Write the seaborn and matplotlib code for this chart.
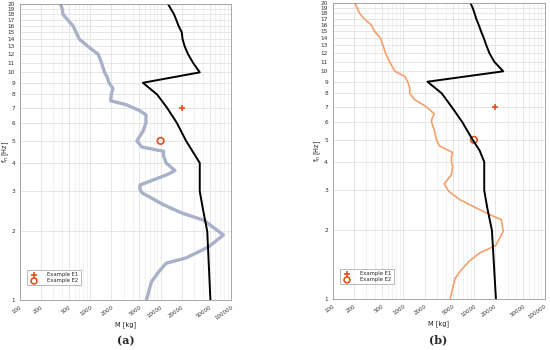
import numpy as np
import pandas as pd
import matplotlib.pyplot as plt
from matplotlib.ticker import FixedLocator, NullFormatter, LogLocator
import seaborn as sns

# Dados (frequência natural em Hz x massa em kg)
freq_limit_a = [1, 2, 2.5, 3, 4, 5, 6, 7, 8, 9, 10, 11, 12, 13, 14, 15, 16, 17, 18, 19, 20]
mass_limit_a = [51000, 46000, 40000, 36000, 36000, 23000, 17000, 12300, 8900, 5600,
                36000, 29000, 24600, 22000, 20500, 20000, 18000, 16700, 15500, 14000, 12700]

freq_curve_a = [20, 19, 18, 17, 16, 15, 14, 13, 12, 11, 10, 9.5, 9, 8.5, 8, 7.5, 7.2, 6.8,
                6.5, 6, 5.5, 5, 4.7, 4.5, 4.3, 4, 3.7, 3.54, 3.2, 3.05, 2.95, 2.62, 2.41,
                2.24, 1.93, 1.71, 1.53, 1.45, 1.33, 1.2, 1]
mass_curve_a = [380, 400, 410, 480, 570, 630, 700, 930, 1300, 1450, 1600, 1750, 1850, 2100,
                2000, 1950, 3300, 5000, 6200, 6200, 5600, 4600, 5400, 11000, 11000, 12000,
                16000, 12000, 5100, 5100, 5500, 11000, 20000, 41000, 78000, 48000, 23000,
                12000, 9400, 7400, 6300]

freq_limit_b = [1, 2, 2.5, 3, 4, 4.5, 5, 6, 7, 8, 9, 10, 11, 12, 13, 14, 15, 16, 17, 18, 19, 20]
mass_limit_b = [20500, 18000, 15500, 14000, 14000, 12000, 9600, 6800, 4800, 3500, 2200,
                26000, 19500, 16600, 15000, 13800, 12600, 11700, 10800, 10200, 9600, 8900]

freq_curve_b = [20, 18, 17, 16, 15, 14, 13, 12, 11, 10, 9.5, 9, 8.5, 8, 7.5, 7, 6.5, 6.2,
                6, 5.5, 5, 4.7, 4.4, 4.2, 4, 3.8, 3.52, 3.2, 2.97, 2.73, 2.47, 2.31, 2.23,
                1.98, 1.72, 1.59, 1.47, 1.34, 1.23, 1]
mass_curve_b = [205, 240, 280, 350, 390, 475, 515, 560, 640, 760, 1050, 1150, 1230, 1230,
                1450, 2100, 2750, 2550, 2500, 2750, 2950, 3250, 5000, 4800, 4800, 5000, 4800,
                3800, 4400, 6300, 12000, 18700, 24500, 26000, 20500, 12000, 8700, 6600,
                5400, 4600]

example_names = ['Example E1', 'Example E2']
example_mass = [20000, 10000]
example_freq = [7, 5]

x_ticks = [100, 200, 500, 1000, 2000, 5000, 10000, 20000, 50000, 100000]
y_ticks = list(range(1, 21))

sns.set_style('whitegrid')
plt.rcParams['font.family'] = ['DejaVu Sans']

fig = plt.figure(figsize=(5.5, 3.5), dpi=100)
ax_a = fig.add_axes([0.036, 0.143, 0.384, 0.846])
ax_b = fig.add_axes([0.605, 0.146, 0.385, 0.846])


def draw_panel(ax, f_lim, m_lim, f_cur, m_cur, cur_color, cur_lw, caption):
    ax.set_xscale('log')
    ax.set_yscale('log')
    sns.lineplot(x=m_cur, y=f_cur, ax=ax, sort=False, estimator=None,
                 color=cur_color, lw=cur_lw)
    sns.lineplot(x=m_lim, y=f_lim, ax=ax, sort=False, estimator=None,
                 color='black', lw=1.4)
    sns.scatterplot(x=[example_mass[0]], y=[example_freq[0]], ax=ax, marker='+',
                    color='#e0501c', s=20, linewidth=1.2, label=example_names[0])
    sns.scatterplot(x=[example_mass[1]], y=[example_freq[1]], ax=ax, marker='o',
                    facecolor='none', edgecolor='#e0501c', s=22, linewidth=1.2,
                    label=example_names[1])
    ax.set_xlim(100, 100000)
    ax.set_ylim(1, 20)
    ax.xaxis.set_major_locator(FixedLocator(x_ticks))
    ax.set_xticklabels([str(t) for t in x_ticks], rotation=35, fontsize=4.0,
                       ha='right', rotation_mode='anchor')
    ax.xaxis.set_minor_locator(LogLocator(base=10, subs=np.arange(2, 10)))
    ax.xaxis.set_minor_formatter(NullFormatter())
    ax.yaxis.set_major_locator(FixedLocator(y_ticks))
    ax.set_yticklabels([str(t) for t in y_ticks], fontsize=4.2)
    ax.yaxis.set_minor_locator(FixedLocator([]))
    ax.grid(True, which='major', color='#e2e2e2', lw=0.6)
    ax.grid(True, which='minor', axis='x', color='#ececec', lw=0.5)
    ax.tick_params(axis='both', which='both', length=2, width=0.4, pad=1.5,
                   color='#888888', labelcolor='#333333')
    ax.tick_params(axis='x', which='minor', length=1.2)
    for s in ax.spines.values():
        s.set_color('#999999')
        s.set_linewidth(0.6)
    ax.set_xlabel('M [kg]', fontsize=4.8, labelpad=0, color='#222222')
    ax.set_ylabel('f$_n$ [Hz]', fontsize=4.8, color='#222222')
    ax.yaxis.set_label_coords(-0.044, 0.5)
    leg = ax.legend(loc='lower left', bbox_to_anchor=(0.02, 0.04), fontsize=3.8,
                    frameon=True, fancybox=False, handletextpad=1.5, borderpad=0.4,
                    labelspacing=0.2, markerscale=0.9)
    leg.get_frame().set_edgecolor('#888888')
    leg.get_frame().set_linewidth(0.5)
    ax.text(0.5, -0.139, caption, transform=ax.transAxes, ha='center', va='center',
            fontsize=8, fontweight='bold', family='DejaVu Serif')


draw_panel(ax_a, freq_limit_a, mass_limit_a, freq_curve_a, mass_curve_a,
           '#a9b1c8', 2.4, '(a)')
draw_panel(ax_b, freq_limit_b, mass_limit_b, freq_curve_b, mass_curve_b,
           '#f4a06c', 1.2, '(b)')

fig.savefig('out.png', dpi=100)
